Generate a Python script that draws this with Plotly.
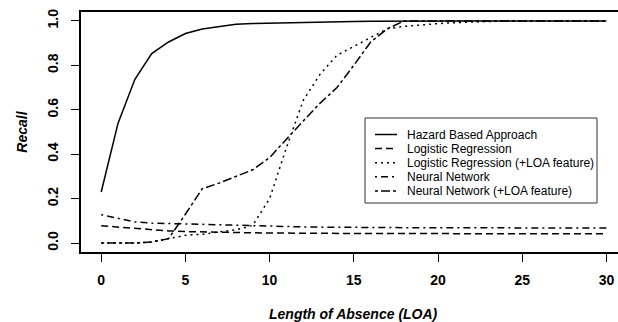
import plotly.graph_objects as go

loa = list(range(0, 31))

hazard = [0.23, 0.54, 0.737, 0.853, 0.905, 0.943, 0.963, 0.975, 0.985, 0.988,
          0.990, 0.992, 0.994, 0.995, 0.996, 0.997, 0.998, 0.999, 1.0, 1.0,
          1.0, 1.0, 1.0, 1.0, 1.0, 1.0, 1.0, 1.0, 1.0, 1.0, 1.0]

logreg = [0.078, 0.072, 0.065, 0.060, 0.055, 0.052, 0.050, 0.048, 0.047, 0.046,
          0.045, 0.045, 0.044, 0.044, 0.044, 0.043, 0.043, 0.043, 0.043, 0.043,
          0.042, 0.042, 0.042, 0.042, 0.042, 0.042, 0.042, 0.042, 0.042, 0.042, 0.042]

logreg_loa = [0.0, 0.0, 0.0, 0.005, 0.02, 0.035, 0.04, 0.05, 0.06, 0.08,
              0.20, 0.43, 0.643, 0.76, 0.845, 0.885, 0.925, 0.965, 0.975, 0.982,
              0.988, 0.992, 0.995, 0.998, 1.0, 1.0, 1.0, 1.0, 1.0, 1.0, 1.0]

nn = [0.128, 0.11, 0.095, 0.09, 0.088, 0.086, 0.083, 0.080, 0.078, 0.077,
      0.075, 0.074, 0.073, 0.072, 0.071, 0.070, 0.070, 0.070, 0.069, 0.069,
      0.069, 0.069, 0.069, 0.068, 0.068, 0.068, 0.068, 0.068, 0.068, 0.068, 0.068]

nn_loa = [0.0, 0.0, 0.0, 0.005, 0.02, 0.13, 0.245, 0.27, 0.30, 0.33,
          0.385, 0.47, 0.55, 0.63, 0.70, 0.80, 0.905, 0.965, 1.0, 1.0,
          1.0, 1.0, 1.0, 1.0, 1.0, 1.0, 1.0, 1.0, 1.0, 1.0, 1.0]

series_names = ["Hazard Based Approach", "Logistic Regression",
                "Logistic Regression (+LOA feature)", "Neural Network",
                "Neural Network (+LOA feature)"]
series_values = [hazard, logreg, logreg_loa, nn, nn_loa]
series_dash = ["solid", "7px,4px", "2px,4px", "2px,4px,7px,4px", "3px,3px,9px,3px"]

x_ticks = [0, 5, 10, 15, 20, 25, 30]
y_ticks = [0.0, 0.2, 0.4, 0.6, 0.8, 1.0]
y_ticktext = ["0.0", "0.2", "0.4", "0.6", "0.8", "1.0"]

FONT = "Liberation Sans, Arial, sans-serif"

# page body margin is removed by the post script, so page px == figure px
W, H = 618, 322
L, R, T, B = 81, 0, 12, 70
PW, PH = W - L - R, H - T - B


def px(xp):
    return (xp - L) / PW


def py(yp):
    return 1 - (yp - T) / PH


px_per_unit = 16.84
x0 = -1.2
x1 = x0 + PW / px_per_unit

fig = go.Figure()
for name, vals, dash in zip(series_names, series_values, series_dash):
    fig.add_trace(go.Scatter(x=loa, y=vals, mode="lines", name=name,
                             showlegend=False,
                             line=dict(color="black", width=1.5, dash=dash)))

# legend drawn as a boxed key (compact row spacing like the original)
shapes = [dict(type="rect", xref="paper", yref="paper",
               x0=px(365), x1=px(597), y0=py(118), y1=py(203),
               line=dict(color="#333333", width=1), fillcolor="white", layer="above")]
annotations = []
row0, row_gap = 134.5, 14.1
for i, (name, dash) in enumerate(zip(series_names, series_dash)):
    yc = py(row0 + i * row_gap)
    shapes.append(dict(type="line", xref="paper", yref="paper",
                       x0=px(375), x1=px(397), y0=yc, y1=yc,
                       line=dict(color="black", width=1.5, dash=dash), layer="above"))
    annotations.append(dict(text=name, xref="paper", yref="paper",
                            x=px(405), y=yc, xanchor="left", yanchor="middle",
                            showarrow=False,
                            font=dict(family=FONT, size=12, color="black")))

annotations += [
    dict(text="<b><i>Length of Absence (LOA)</i></b>", xref="paper", yref="paper",
         x=px(353.4), y=py(314), xanchor="center", yanchor="middle", showarrow=False,
         font=dict(family=FONT, size=14, color="black")),
    dict(text="<b><i>Recall</i></b>", xref="paper", yref="paper",
         x=px(21.7), y=0.5, textangle=-90,
         xanchor="center", yanchor="middle", showarrow=False,
         font=dict(family=FONT, size=14, color="black")),
]

fig.update_layout(
    width=W, height=H,
    margin=dict(l=L, r=R, t=T, b=B, pad=0),
    paper_bgcolor="white", plot_bgcolor="white",
    font=dict(family=FONT, color="black"),
    showlegend=False,
    xaxis=dict(range=[x0, x1], tickvals=x_ticks, showgrid=False, zeroline=False,
               showline=True, mirror=True, linecolor="black", linewidth=1.5,
               ticks="outside", ticklen=8, tickwidth=1, tickcolor="black",
               ticklabelstandoff=6, ticklabeloverflow="allow",
               tickfont=dict(family=FONT, size=14, color="black", weight="bold")),
    yaxis=dict(range=[-0.04, 1.04], tickvals=y_ticks, ticktext=y_ticktext,
               showgrid=False, zeroline=False,
               showline=True, mirror=False, linecolor="black", linewidth=1.5,
               ticks="outside", ticklen=8, tickwidth=1, tickcolor="black",
               tickangle=-90, ticklabelstandoff=8,
               tickfont=dict(family=FONT, size=14, color="black", weight="bold")),
    shapes=shapes,
    annotations=annotations,
)

fig.write_html(
    "out.html",
    config={"displayModeBar": False},
    post_script="document.body.style.margin='0';"
                "document.documentElement.style.overflow='hidden';"
                "document.body.style.overflow='hidden';",
)
